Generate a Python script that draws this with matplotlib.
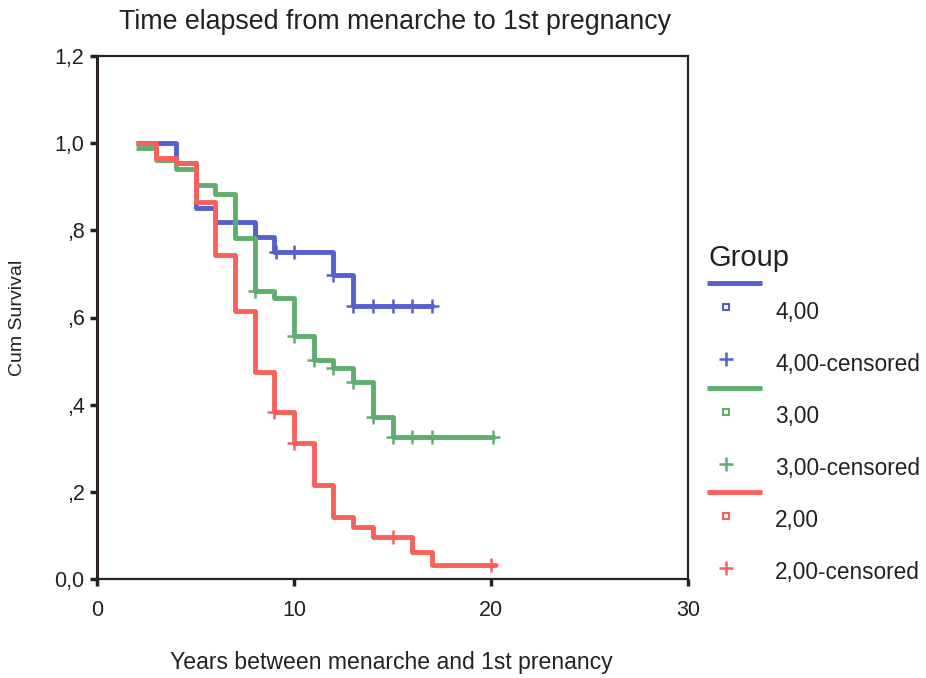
import numpy as np
import matplotlib
matplotlib.use("Agg")
import matplotlib.pyplot as plt
from matplotlib.lines import Line2D

plt.rcParams["font.family"] = ["Liberation Sans", "DejaVu Sans"]

# Kaplan-Meier steps (time, cumulative survival)
grp4_t = [2, 4, 5, 6, 8, 9, 12, 13]
grp4_s = [1.0, 0.955, 0.851, 0.819, 0.784, 0.750, 0.697, 0.626]
grp4_end = 17.1
grp4_cens_t = [9.1, 10, 12, 13, 14, 15, 16, 17]
grp4_cens_s = [0.750, 0.750, 0.697, 0.626, 0.626, 0.626, 0.626, 0.626]

grp3_t = [2, 3, 4, 5, 6, 7, 8, 9, 10, 11, 12, 13, 14, 15]
grp3_s = [0.989, 0.961, 0.940, 0.904, 0.883, 0.782, 0.661, 0.644, 0.557,
          0.502, 0.484, 0.452, 0.372, 0.326]
grp3_end = 20.2
grp3_cens_t = [8, 10, 11, 12, 13, 14, 15, 16, 17, 20.1]
grp3_cens_s = [0.661, 0.557, 0.502, 0.484, 0.452, 0.372, 0.326, 0.326, 0.326, 0.326]

grp2_t = [2, 3, 4, 5, 6, 7, 8, 9, 10, 11, 12, 13, 14, 16, 17]
grp2_s = [1.0, 0.966, 0.954, 0.865, 0.743, 0.615, 0.475, 0.383, 0.312,
          0.216, 0.142, 0.119, 0.096, 0.062, 0.032]
grp2_end = 20.3
grp2_cens_t = [9, 10, 15, 20]
grp2_cens_s = [0.383, 0.312, 0.096, 0.032]

group_names = ["4,00", "3,00", "2,00"]
colors = ["#5460d0", "#5fae6e", "#fa605a"]

y_ticks = [0.0, 0.2, 0.4, 0.6, 0.8, 1.0, 1.2]
y_labels = ["0,0", ",2", ",4", ",6", ",8", "1,0", "1,2"]
x_ticks = [0, 10, 20, 30]

W, H = 926, 678
fig = plt.figure(figsize=(W / 100, H / 100), dpi=100)
fig.patch.set_facecolor("white")


def fx(px):
    return px / W


def fy(py):
    return 1 - py / H


ax = fig.add_axes([fx(97), fy(579), fx(688) - fx(97), fy(56) - fy(579)])

groups = [
    (grp4_t, grp4_s, grp4_end, grp4_cens_t, grp4_cens_s, colors[0]),
    (grp3_t, grp3_s, grp3_end, grp3_cens_t, grp3_cens_s, colors[1]),
    (grp2_t, grp2_s, grp2_end, grp2_cens_t, grp2_cens_s, colors[2]),
]
# green underneath, then blue, red on top
for i in [1, 0, 2]:
    t, s, end, ct, cs, c = groups[i]
    ax.step(np.append(t, end), np.append(s, s[-1]), where="post",
            color=c, lw=3.5, solid_capstyle="butt", zorder=2 + i)
    ax.plot(ct, cs, ls="none", marker="+", ms=10, mew=1.8, color=c, zorder=5)

ax.set_xlim(0, 30)
ax.set_ylim(0, 1.2)
ax.set_xticks(x_ticks)
ax.set_xticklabels([str(v) for v in x_ticks])
ax.set_yticks(y_ticks)
ax.set_yticklabels(y_labels)
ax.tick_params(axis="both", direction="out", length=5, width=2.5,
               colors="#222222", labelsize=15.5, pad=4)
ax.tick_params(axis="x", pad=10)
for side in ["left", "right", "top", "bottom"]:
    ax.spines[side].set_color("#2a2222")
    ax.spines[side].set_linewidth(1.6)
ax.spines["left"].set_linewidth(2.2)

fig.text(fx(395), fy(22), "Time elapsed from menarche to 1st pregnancy",
         ha="center", va="center", fontsize=19.3, color="#222222")
fig.text(fx(391), fy(662), "Years between menarche and 1st prenancy",
         ha="center", va="center", fontsize=16.6, color="#222222")
fig.text(fx(18), fy(318), "Cum Survival", rotation=90,
         ha="center", va="center", fontsize=14, color="#222222")

# legend drawn by hand to keep the SPSS layout
fig.text(fx(709), fy(258), "Group", ha="left", va="center",
         fontsize=21, color="#222222")
for k, name in enumerate(group_names):
    base = 283 + k * 104.5
    c = colors[k]
    fig.add_artist(Line2D([fx(707), fx(762)], [fy(base), fy(base)],
                          color=c, lw=3.5, solid_capstyle="butt"))
    fig.add_artist(Line2D([fx(726)], [fy(base + 24)], marker="s", ms=5,
                          mfc="white", mec=c, mew=1.5, ls="none"))
    fig.text(fx(775), fy(base + 29), name, ha="left", va="center",
             fontsize=16.3, color="#222222")
    fig.add_artist(Line2D([fx(726)], [fy(base + 76)], marker="+", ms=10,
                          mew=1.8, color=c, ls="none"))
    fig.text(fx(775), fy(base + 81), name + "-censored", ha="left",
             va="center", fontsize=16.3, color="#222222")

fig.savefig("out.png", dpi=100)
